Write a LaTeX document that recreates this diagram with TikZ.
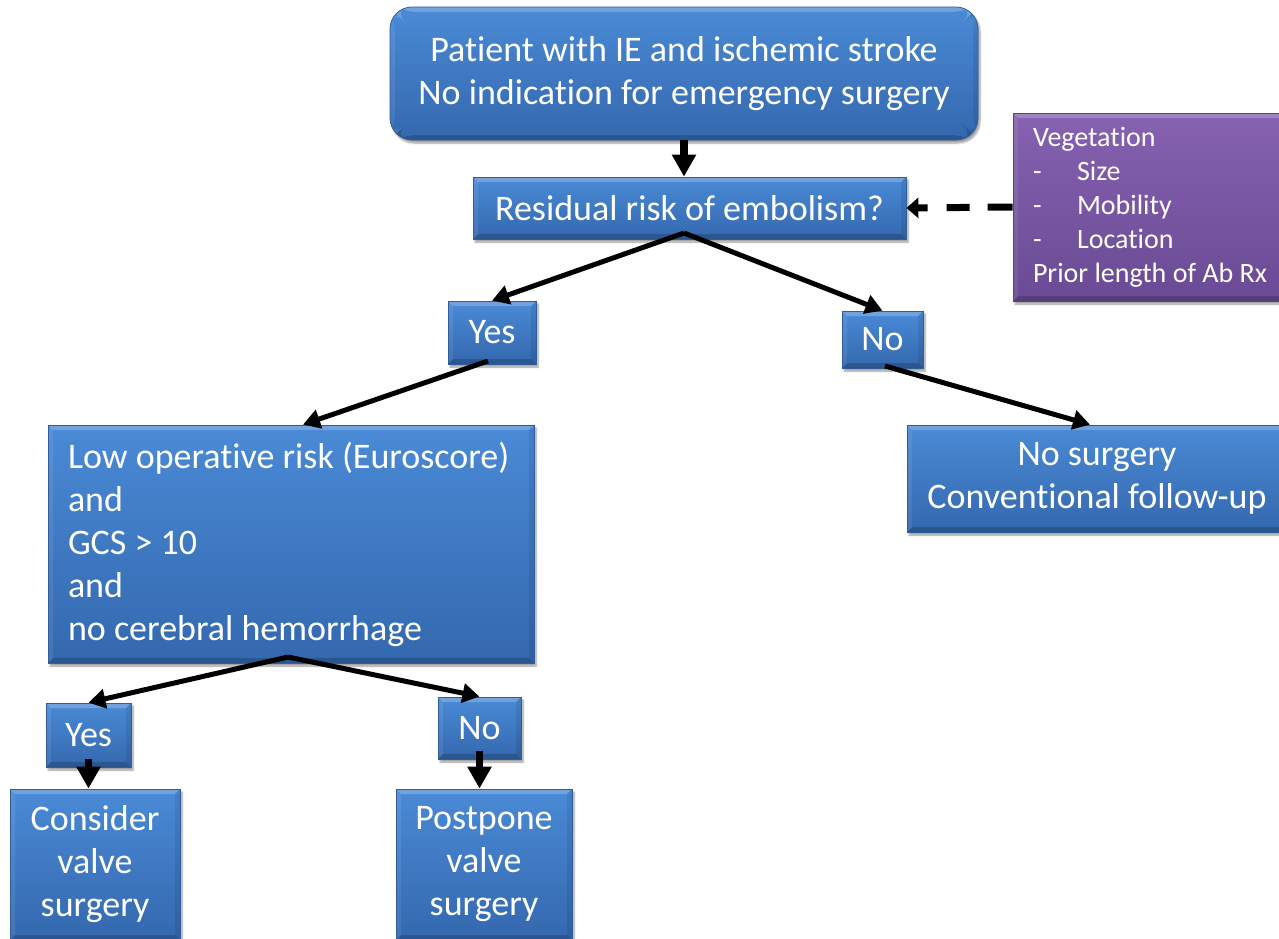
\documentclass[tikz,border=0pt]{standalone}
\usepackage{fontspec}
\setmainfont{Carlito}[Ligatures=CommonOff]
\usetikzlibrary{arrows.meta,shadows.blur,calc}
\definecolor{bluetop}{HTML}{4A8AD6}
\definecolor{bluebot}{HTML}{3468AE}
\definecolor{blueedge}{HTML}{2E5E9C}
\definecolor{purtop}{HTML}{8662B0}
\definecolor{purbot}{HTML}{6A4A95}
\definecolor{puredge}{HTML}{5C3F84}
\begin{document}
\begin{tikzpicture}[x=1pt,y=-1pt,
  bevel/.style={path picture={
    \fill[white,opacity=0.22] (path picture bounding box.north west) -- (path picture bounding box.north east)
      -- ++(-5pt,-5pt) -- ($(path picture bounding box.north west)+(5pt,-5pt)$) -- cycle;
    \fill[black,opacity=0.18] (path picture bounding box.south west) -- (path picture bounding box.south east)
      -- ++(-5pt,5pt) -- ($(path picture bounding box.south west)+(5pt,5pt)$) -- cycle;
    \fill[white,opacity=0.08] (path picture bounding box.north west) -- ++(5pt,-5pt)
      -- ($(path picture bounding box.south west)+(5pt,5pt)$) -- (path picture bounding box.south west) -- cycle;
    \fill[black,opacity=0.08] (path picture bounding box.north east) -- ++(-5pt,-5pt)
      -- ($(path picture bounding box.south east)+(-5pt,5pt)$) -- (path picture bounding box.south east) -- cycle;
  }},
  box/.style={draw=blueedge, line width=0.8pt, top color=bluetop, bottom color=bluebot,
    text=white, inner sep=0pt, align=center, bevel,
    blur shadow={shadow xshift=2pt, shadow yshift=-3pt, shadow opacity=40, shadow blur steps=6},
    font=\fontsize{36}{43}\selectfont},
  purplebox/.style={box, draw=puredge, top color=purtop, bottom color=purbot,
    font=\fontsize{28}{34}\selectfont},
  arr/.style={line width=5pt, -{Triangle[length=17pt,width=19pt]}},
  shortarr/.style={line width=7.5pt, -{Triangle[length=22pt,width=23pt]}},
  dasharr/.style={line width=7pt, dash pattern=on 25pt off 18pt on 23pt off 19pt on 40pt off 0pt,
    -{Triangle[length=12pt,width=20pt]}},
]
\useasboundingbox (0,0) rectangle (1279,938);
\clip (0,0) rectangle (1279,938);

\node[box, rounded corners=22pt, minimum width=588pt, minimum height=133pt] (top) at (684,73.5)
  {Patient with IE and ischemic stroke\\No indication for emergency surgery};
\node[box, minimum width=433pt, minimum height=62pt] (res) at (689.5,208) {Residual risk of embolism?};
\node[purplebox, minimum width=287pt, minimum height=188pt, text width=247pt, align=flush left] (veg) at (1156.5,207)
  {Vegetation\\
   \makebox[44pt][l]{-}Size\\
   \makebox[44pt][l]{-}Mobility\\
   \makebox[44pt][l]{-}Location\\
   Prior length of Ab Rx};
\node[box, minimum width=88pt, minimum height=63pt] (yes1) at (492,332.5) {Yes};
\node[box, minimum width=81pt, minimum height=57pt] (no1) at (882.5,339.5) {No};
\node[box, minimum width=486pt, minimum height=238pt, text width=446pt, align=flush left] (low) at (291,544)
  {Low operative risk (Euroscore)\\and\\GCS > 10\\and\\no cerebral hemorrhage};
\node[box, minimum width=380pt, minimum height=107pt] (nosurg) at (1097,478.5)
  {No surgery\\Conventional follow-up};
\node[box, minimum width=85pt, minimum height=64pt] (yes2) at (88.5,735) {Yes};
\node[box, minimum width=83pt, minimum height=62pt] (no2) at (479.5,728) {No};
\node[box, minimum width=170pt, minimum height=151pt] (consider) at (95,864.5)
  {Consider\\valve\\surgery};
\node[box, minimum width=176pt, minimum height=151pt] (postpone) at (484,864.5)
  {Postpone\\valve\\surgery};

\coordinate (resout) at (684,233);
\coordinate (yes1out) at (488,361);
\coordinate (no1out) at (885,366);
\coordinate (lowout) at (288,657);

\draw[shortarr] (top.south) -- (top.south |- res.north);
\draw[arr] (resout) -- (yes1.north);
\draw[arr] (resout) -- (no1.north);
\draw[arr] (yes1out) -- ($(low.north)+(12,0)$);
\draw[arr] (no1out) -- ($(nosurg.north)+(-7,0)$);
\draw[arr] (lowout) -- (yes2.north);
\draw[arr] (lowout) -- (no2.north);
\draw[shortarr] ($(yes2.south)+(0,-8)$) -- (yes2.south |- consider.north);
\draw[shortarr] ($(no2.south)+(0,-8)$) -- (no2.south |- postpone.north);
\draw[dasharr] (veg.west) -- (res.east);
\end{tikzpicture}
\end{document}
